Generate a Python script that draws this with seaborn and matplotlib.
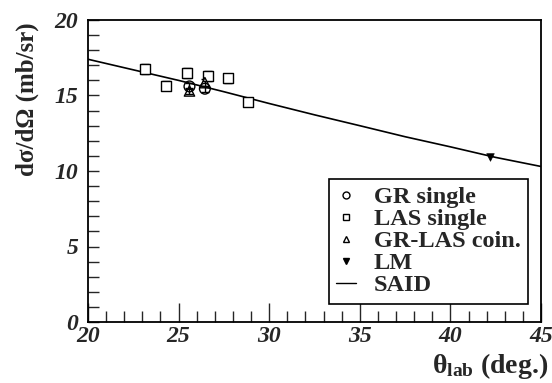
import numpy as np
import pandas as pd
import seaborn as sns
import matplotlib.pyplot as plt
from matplotlib.ticker import MultipleLocator
from matplotlib.lines import Line2D
from matplotlib.font_manager import FontProperties

sns.set_style("ticks")
plt.rcParams['font.family'] = ['Liberation Serif', 'DejaVu Serif']
plt.rcParams['font.weight'] = 'bold'
plt.rcParams['mathtext.fontset'] = 'custom'
plt.rcParams['mathtext.rm'] = 'Liberation Serif:style=normal'
plt.rcParams['mathtext.bf'] = 'Liberation Serif:style=normal:weight=bold'
plt.rcParams['mathtext.it'] = 'Liberation Serif:style=italic'

# data
gr_theta = [25.6, 26.45]
gr_xs = [15.6, 15.45]
gr_err = [0.2, 0.2]

las_theta = [23.15, 24.3, 25.45, 26.6, 27.7, 28.85]
las_xs = [16.75, 15.65, 16.5, 16.3, 16.15, 14.55]
las_err = [0.33, 0.3, 0.33, 0.33, 0.3, 0.25]

coin_theta = [25.6, 26.45]
coin_xs = [15.3, 15.85]
coin_err = [0.2, 0.25]

lm_theta = [42.2]
lm_xs = [10.95]

said_theta = [20, 22.5, 25, 27.5, 30, 32.5, 35, 37.5, 40, 42.5, 45]
said_xs = [17.4, 16.7, 16.0, 15.25, 14.47, 13.72, 13.0, 12.27, 11.6, 10.9, 10.3]

fig = plt.figure(figsize=(5.52, 3.83), dpi=100)
ax = fig.add_axes([88 / 552, 1 - 322 / 383, (541 - 88) / 552, (322 - 20) / 383])

said = pd.DataFrame({"theta": said_theta, "xs": said_xs})
sns.lineplot(data=said, x="theta", y="xs", color="black", lw=1.2, ax=ax)

# error bars
for th, v, e in [(gr_theta, gr_xs, gr_err), (las_theta, las_xs, las_err),
                 (coin_theta, coin_xs, coin_err)]:
    ax.errorbar(th, v, yerr=e, fmt="none", ecolor="black", elinewidth=1,
                capsize=3, capthick=1)

sns.scatterplot(x=las_theta, y=las_xs, marker="s", s=55, facecolor="white",
                edgecolor="black", linewidth=1, ax=ax, zorder=3)
sns.scatterplot(x=gr_theta, y=gr_xs, marker="o", s=60, facecolor="none",
                edgecolor="black", linewidth=1, ax=ax, zorder=3)
sns.scatterplot(x=coin_theta, y=coin_xs, marker="^", s=55, facecolor="none",
                edgecolor="black", linewidth=1, ax=ax, zorder=3)
sns.scatterplot(x=lm_theta, y=lm_xs, marker="v", s=30, color="black",
                edgecolor="black", ax=ax, zorder=3)

ax.set_xlim(20, 45)
ax.set_ylim(0, 20)
ax.xaxis.set_major_locator(MultipleLocator(5))
ax.xaxis.set_minor_locator(MultipleLocator(1))
ax.yaxis.set_major_locator(MultipleLocator(5))
ax.yaxis.set_minor_locator(MultipleLocator(1))
ax.tick_params(which="both", direction="in", top=False, right=False, width=1)
ax.tick_params(which="major", length=14)
ax.tick_params(which="minor", length=8)
ax.tick_params(axis="y", which="major", length=8)
ax.tick_params(axis="x", pad=3)
ax.tick_params(axis="y", pad=7)
for sp in ax.spines.values():
    sp.set_visible(True)
    sp.set_linewidth(1.3)
    sp.set_color("black")
ax.set_xlabel("")
ax.set_ylabel("")

# bold italic tick labels
tick_font = FontProperties(family="Liberation Serif", style="italic",
                           weight="bold", size=17)
fig.canvas.draw()
for lab in ax.get_xticklabels() + ax.get_yticklabels():
    lab.set_fontproperties(tick_font)

fig.text(27 / 552, 1 - 22 / 383, "dσ/dΩ (mb/sr)", rotation=90, ha="center",
         va="top", fontsize=18, fontweight="bold")
fig.text(548 / 552, 1 - 366 / 383, r"$\mathbf{θ_{lab}}$ (deg.)", ha="right",
         va="center", fontsize=20, fontweight="bold")

handles = [
    Line2D([], [], ls="none", marker="o", ms=5, mfc="none", mec="black", mew=1),
    Line2D([], [], ls="none", marker="s", ms=5, mfc="none", mec="black", mew=1),
    Line2D([], [], ls="none", marker="^", ms=5, mfc="none", mec="black", mew=1),
    Line2D([], [], ls="none", marker="v", ms=4, color="black"),
    Line2D([], [], color="black", lw=1),
]
labels = ["GR single", "LAS single", "GR-LAS coin.", "LM", "SAID"]
leg = ax.legend(handles, labels, loc="upper left",
                bbox_to_anchor=(329 / 552, 1 - 179 / 383),
                bbox_transform=fig.transFigure, frameon=True, fancybox=False,
                prop={"weight": "bold", "size": 17.5},
                handlelength=0.8, handletextpad=0.75, borderpad=0.3,
                labelspacing=0.0, borderaxespad=0)
leg.get_frame().set_edgecolor("black")
leg.get_frame().set_linewidth(1.2)
leg.get_frame().set_alpha(1)

fig.savefig("out.png", dpi=100)
